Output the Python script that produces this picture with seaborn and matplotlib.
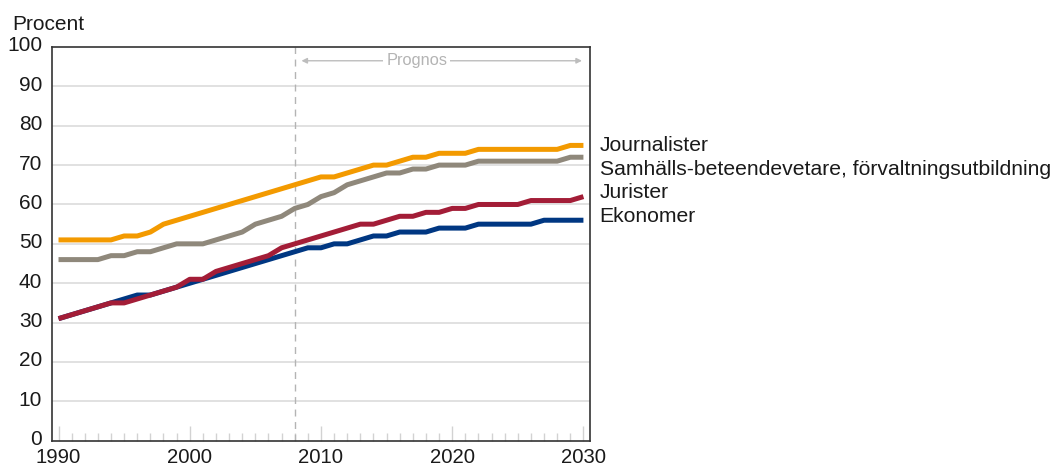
import pandas as pd
import matplotlib.pyplot as plt
import matplotlib.transforms as mtransforms
import seaborn as sns

# Andel kvinnor per utbildningsgrupp, 1990-2030 (prognos från 2008)
years = list(range(1990, 2031))

journalister = [51, 51, 51, 51, 51, 52, 52, 53, 55, 56,
                57, 58, 59, 60, 61, 62, 63, 64, 65, 66,
                67, 67, 68, 69, 70, 70, 71, 72, 72, 73,
                73, 73, 74, 74, 74, 74, 74, 74, 74, 75, 75]
samhall = [46, 46, 46, 46, 47, 47, 48, 48, 49, 50,
           50, 50, 51, 52, 53, 55, 56, 57, 59, 60,
           62, 63, 65, 66, 67, 68, 68, 69, 69, 70,
           70, 70, 71, 71, 71, 71, 71, 71, 71, 72, 72]
jurister = [31, 32, 33, 34, 35, 35, 36, 37, 38, 39,
            41, 41, 43, 44, 45, 46, 47, 49, 50, 51,
            52, 53, 54, 55, 55, 56, 57, 57, 58, 58,
            59, 59, 60, 60, 60, 60, 61, 61, 61, 61, 62]
ekonomer = [31, 32, 33, 34, 35, 36, 37, 37, 38, 39,
            40, 41, 42, 43, 44, 45, 46, 47, 48, 49,
            49, 50, 50, 51, 52, 52, 53, 53, 53, 54,
            54, 54, 55, 55, 55, 55, 55, 56, 56, 56, 56]

labels = ["Journalister", "Samhälls-beteendevetare, förvaltningsutbildning",
          "Jurister", "Ekonomer"]
label_y = [75, 69, 63, 57]
colors = ["#f39a00", "#8f887b", "#a31d37", "#003782"]
prognos_start = 2008

df = pd.DataFrame({
    "År": years * 4,
    "Procent": journalister + samhall + jurister + ekonomer,
    "Grupp": sum([[l] * len(years) for l in labels], []),
})

sns.set_style("white")
plt.rcParams['font.family'] = ['Liberation Sans', 'DejaVu Sans']
plt.rcParams['text.color'] = '#1a1a1a'
plt.rcParams['xtick.color'] = '#1a1a1a'
plt.rcParams['ytick.color'] = '#1a1a1a'

fig = plt.figure(figsize=(10.56, 4.68), dpi=100)
ax = fig.add_axes([0.0492, 0.0583, 0.5095, 0.8413])

# rutnät
for v in range(10, 100, 10):
    ax.axhline(v, color="#dcdcdc", lw=1.2, zorder=0)

# rita i omvänd ordning så att Ekonomer hamnar överst
sns.lineplot(data=df, x="År", y="Procent", hue="Grupp", hue_order=labels[::-1],
             palette=colors[::-1], linewidth=3.6, legend=False, ax=ax,
             solid_capstyle="butt")

ax.set_xlim(1989.5, 2030.5)
ax.set_ylim(0, 100)
ax.set_xticks(range(1990, 2031, 10))
ax.set_xticks(range(1990, 2031), minor=True)
ax.set_yticks(range(0, 101, 10))
ax.tick_params(axis="x", which="both", bottom=True)
ax.tick_params(axis="x", which="major", direction="in", length=11, width=1,
               color="#d2d2d2", labelcolor="#1a1a1a", labelsize=14.6, pad=5)
ax.tick_params(axis="x", which="minor", direction="in", length=6, width=1,
               color="#d2d2d2")
ax.tick_params(axis="y", length=0, labelsize=15, pad=7)
ax.set_xlabel("")
ax.set_ylabel("")
for s in ax.spines.values():
    s.set_color("#333333")
    s.set_linewidth(1.2)

# y-etiketterna något uppåt, som i originalet
up = mtransforms.ScaledTranslation(0, 3 / 100, fig.dpi_scale_trans)
for t in ax.get_yticklabels():
    t.set_transform(t.get_transform() + up)

# prognos-markering
ax.axvline(prognos_start, color="#b4b4b4", lw=1, ls=(0, (5, 4)), zorder=1)
ax.annotate("", xy=(2030.1, 96.5), xytext=(prognos_start + 0.3, 96.5),
            arrowprops=dict(arrowstyle="<|-|>", color="#bdbdbd", lw=1,
                            mutation_scale=8))
ax.text(2017.3, 96.5, "Prognos", ha="center", va="center", fontsize=11.8,
        color="#b4b4b4", bbox=dict(fc="white", ec="none", pad=2))

fig.text(0.012, 0.948, "Procent", fontsize=15, ha="left", va="center")

for lab, y in zip(labels, label_y):
    ax.annotate(lab, xy=(1, y), xycoords=("axes fraction", "data"),
                xytext=(7, 0), textcoords="offset points", ha="left",
                va="center", fontsize=15.2, annotation_clip=False)

fig.savefig("out.png", dpi=100)
